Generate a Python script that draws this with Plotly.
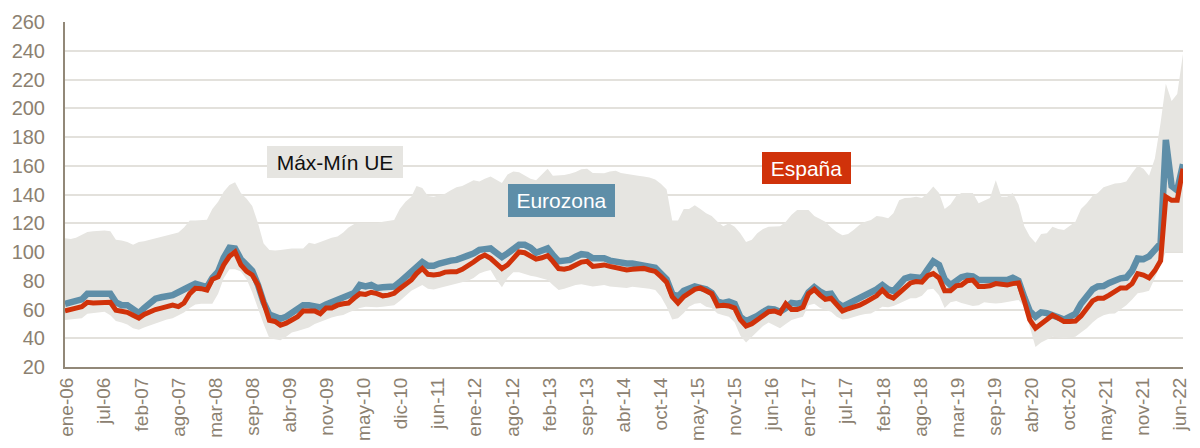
import pandas as pd
import plotly.graph_objects as go

# Monthly observations, Jan 2006 - Jun 2022 (one row per year)
months = pd.date_range("2006-01-01", periods=198, freq="MS")

espana = [
    59, 60.5, 61, 62, 65, 64.5, 64.5, 65, 65, 59.5, 58.5, 58,
    56, 54, 56.5, 58.5, 60, 61, 62, 63, 62, 64.5, 71, 74.7,
    74.5, 73.5, 81, 82.8, 91, 97, 100, 91, 86.5, 84, 77, 64,
    52.5, 51.6, 49, 50.5, 52.5, 55, 59, 59, 59, 57, 61, 61,
    63, 64, 64.5, 68, 71, 70.5, 72, 71, 69.5, 70, 71.3, 74.5,
    78, 80.5, 85, 88.6, 84.5, 84, 84.5, 86, 86.3, 86.3, 88, 91,
    93, 96, 97.9, 95.6, 92, 88.5, 91, 96, 100, 99.5, 97, 95,
    96, 97.5, 93.5, 88.5, 88, 89, 91, 93, 93.5, 90, 90.5, 91,
    90, 89, 87.8, 87.5, 88, 88.3, 88.6, 87.5, 86.5, 83, 79, 69,
    64.5, 69, 71, 74, 75, 73, 71, 62.5, 63, 62.5, 61, 53,
    48.5, 50, 53, 55.5, 58.5, 59, 57.5, 64, 60, 60, 61.5, 71,
    74, 70, 67, 67.8, 63, 59, 60.5, 61.5, 63, 65, 67, 69.5,
    73.5, 69.5, 68, 71.5, 76, 78.5, 79.5, 79, 83.5, 85, 82, 73,
    73, 76.5, 77, 80, 80.5, 76, 76, 76.5, 78, 77.5, 77, 78,
    78.5, 66, 53, 47, 50, 53.5, 56, 54, 51.6, 51.6, 52, 55.5,
    61, 66, 67.8, 67.8, 70, 72.5, 75, 75, 78, 85, 84, 82,
    87, 94, 138.5, 136, 136, 158,
]

eurozona = [
    64, 65, 65.5, 67, 71, 71, 71.5, 72, 71, 65, 63, 63,
    60, 57.5, 61, 65, 67.5, 68.5, 69, 70, 72, 73.5, 76, 78,
    77, 75.5, 82, 86.3, 96, 103, 102.5, 95, 91, 87, 77, 65,
    56.5, 55, 53.5, 55, 58, 61, 63, 63, 62, 61.5, 63.5, 65,
    67, 68.5, 70, 71.5, 77, 76, 77, 75, 75.5, 75.6, 76, 79,
    82.5, 85, 89, 93, 90.5, 90.5, 92, 93.3, 94, 94.5, 96.5, 97.5,
    99, 101.5, 102, 102.5, 99.5, 96.5, 99, 102.5, 105, 105, 103, 99.5,
    101, 102.5, 98, 93.5, 94, 94.5, 96.7, 98.5, 98, 95.6, 95.6, 95.6,
    94, 93, 92.5, 92, 92, 91.5, 91, 90.5, 89, 85, 81, 71,
    69, 73, 74.5, 76, 75, 74, 71.5, 65.5, 64.5, 65.4, 64, 55,
    51.8, 53.5, 55.5, 58.3, 60.5, 60, 58.5, 61, 64.5, 64, 65, 72,
    75.5, 72.5, 70.5, 71, 65, 62, 63.8, 65.5, 67.5, 69.5, 71.5, 74,
    77, 74, 72.8, 76.5, 81.5, 82.8, 82.8, 82, 88, 93.5, 91, 81,
    77, 80.5, 82.5, 83.5, 83, 80.5, 80.5, 80.5, 80.5, 80.5, 80.5, 82,
    80, 68.5, 59, 55, 58, 57.5, 56.5, 54.5, 53, 54.5, 57, 64,
    70, 74, 76, 76.3, 78.5, 80.5, 81.7, 82.2, 87, 95.5, 95, 97,
    101.5, 106, 178, 146, 143, 161,
]

ue_max = [
    109.5, 109, 110, 112, 114, 114.5, 115, 115, 114.5, 108.5, 108, 107,
    105, 107, 107.5, 108.5, 109.5, 110.5, 111.5, 112.5, 113.5, 117, 122, 122,
    122, 122.5, 130, 135, 142, 146.6, 148.5, 141, 137, 132, 120, 106,
    101.4, 101, 101.4, 102, 102.5, 102.5, 102.5, 106.5, 105.5, 107, 108.5, 110,
    110.7, 113.5, 117, 119.5, 120, 120, 120, 120, 121, 121.5, 122.3, 130,
    135, 138.5, 146, 144.5, 139, 138.5, 139.5, 140.5, 143, 145, 146, 148,
    150, 149, 151, 152.5, 150, 148, 154, 156, 155.5, 153, 151, 150,
    154, 158, 153, 153, 153.5, 154.5, 155.7, 157.5, 158, 155, 154.7, 154.7,
    156, 156.5, 155, 154.5, 153.8, 153, 152.5, 151.8, 150.5, 147.5, 143.5, 122,
    122, 130, 130, 132.5, 130, 127, 125, 121, 118, 120, 117.5, 113,
    107, 108.5, 113, 116, 117.6, 117.6, 118, 121, 126, 129.3, 129.3, 129.3,
    125, 123, 121, 117, 114, 111.6, 112.5, 115.5, 119, 121, 122.3, 125,
    124.5, 123.4, 127, 136, 137.5, 137.8, 138.5, 137.5, 141, 145.5, 141, 130,
    133, 139, 141, 141, 141, 134, 136, 137.5, 150, 138.5, 138.5, 141,
    133, 118, 111, 106.5, 112.5, 113, 117.5, 116, 115.3, 118, 121, 130,
    134, 139, 141, 145, 146.5, 147.7, 148, 149, 155, 160, 158, 153,
    165, 190, 217, 205, 210, 238,
]

ue_min = [
    52.7, 53, 53.5, 54, 57, 57.5, 58, 58.5, 56, 52, 51, 49.5,
    47, 46, 47.5, 49, 50.5, 52, 53, 54, 56, 58, 61, 63.5,
    64, 64, 64, 71, 81.7, 88, 88, 86.5, 81, 72, 60, 50,
    40, 39, 38.6, 41, 44, 45, 46.5, 47.5, 50, 51.5, 53, 54.5,
    55.5, 56.2, 58, 59.7, 61, 62, 61.5, 61.5, 62, 62.5, 63, 66,
    69.5, 73, 75, 77, 74.5, 74, 75, 76, 77, 78, 79, 80,
    82, 85, 86.5, 87.5, 81, 75.5, 82, 86, 86, 84.5, 83.5, 82.8,
    81.5, 80.5, 77, 73.5, 74.5, 76, 77, 77.5, 77, 76, 76.5, 77,
    76, 75.5, 75, 75, 75.9, 75.5, 75, 74.5, 73.5, 69, 62, 53,
    54, 57.5, 62, 64, 64.5, 62, 61, 57.3, 56, 55, 51, 42,
    37, 41, 45, 48.5, 51, 49, 47, 50, 52.7, 54, 55, 63,
    64, 61, 60, 58.5, 55, 53, 53.5, 55, 56, 56.8, 57.3, 59.5,
    62, 61.5, 62.5, 64.2, 66, 67.8, 67.8, 69.5, 74, 74.5, 70, 61,
    65, 66, 64.5, 63.5, 62.5, 63, 65, 64.5, 64.2, 64.5, 65.4, 66,
    66.6, 62, 48, 34, 37, 39, 41, 40.5, 40, 40.5, 41, 44,
    47, 51, 54, 56, 57, 57.3, 60, 63, 67, 71.3, 72, 73,
    82, 92, 100.2, 100.2, 100.2, 100.2,
]

tick_labels = [
    "ene-06", "jul-06", "feb-07", "ago-07", "mar-08", "sep-08", "abr-09",
    "nov-09", "may-10", "dic-10", "jun-11", "ene-12", "ago-12", "feb-13",
    "sep-13", "abr-14", "oct-14", "may-15", "nov-15", "jun-16", "ene-17",
    "jul-17", "feb-18", "ago-18", "mar-19", "sep-19", "abr-20", "oct-20",
    "may-21", "nov-21", "jun-22",
]

BAND = "#e6e5e1"
GRID = "#e3e1dc"
BLUE = "#5e8ea8"
RED = "#d0320a"
AXIS = "#928878"
TEXT = "#8c8171"
FONT = "Liberation Sans, Arial, sans-serif"

# evenly spaced label positions across the time span
t0, t1 = months[0], months[-1]
span = t1 - t0
n = len(tick_labels)
tick_vals = [t0 + span * (0.002 + 0.9955 * i / (n - 1)) for i in range(n)]

fig = go.Figure()

fig.add_trace(go.Scatter(
    x=months, y=ue_min, mode="lines", line=dict(width=0, color=BAND),
    hoverinfo="skip", showlegend=False,
))
fig.add_trace(go.Scatter(
    x=months, y=ue_max, mode="lines", line=dict(width=0, color=BAND),
    fill="tonexty", fillcolor=BAND, name="Máx-Mín UE", showlegend=False,
))
fig.add_trace(go.Scatter(
    x=months, y=eurozona, mode="lines", name="Eurozona",
    line=dict(color=BLUE, width=6.5), showlegend=False,
))
fig.add_trace(go.Scatter(
    x=months, y=espana, mode="lines", name="España",
    line=dict(color=RED, width=5), showlegend=False,
))

def label(text, x, y, w, h, bg, fg):
    fig.add_annotation(
        text=text, xref="paper", yref="paper", x=x, y=y,
        xanchor="center", yanchor="middle", showarrow=False,
        width=w, height=h, bgcolor=bg, borderpad=0, borderwidth=0,
        font=dict(family=FONT, size=21, color=fg),
    )

label("Máx-Mín UE", 0.2415, 0.594, 136, 32, BAND, "#111111")
label("Eurozona", 0.444, 0.4826, 107, 33, BLUE, "#ffffff")
label("España", 0.6632, 0.5768, 89, 32, RED, "#ffffff")

fig.update_layout(
    width=1200, height=448,
    margin=dict(l=65, r=17, t=22, b=81, autoexpand=False),
    paper_bgcolor="white", plot_bgcolor="white",
    font=dict(family=FONT, size=20, color=TEXT),
)
fig.update_xaxes(
    range=[t0, t1], tickmode="array", tickvals=tick_vals, ticktext=tick_labels,
    tickangle=-90, showgrid=False, zeroline=False, automargin=False,
    showline=True, linecolor=AXIS, linewidth=2,
    ticks="", ticklabelstandoff=1,
    tickfont=dict(family=FONT, size=19, color=TEXT),
)
fig.update_yaxes(
    range=[20, 260], dtick=20, tick0=20, automargin=False,
    showgrid=True, gridcolor=GRID, gridwidth=2, zeroline=False,
    showline=True, linecolor=AXIS, linewidth=2,
    ticks="", ticklabelstandoff=14,
    tickfont=dict(family=FONT, size=20, color=TEXT),
)

fig.write_html("out.html")
